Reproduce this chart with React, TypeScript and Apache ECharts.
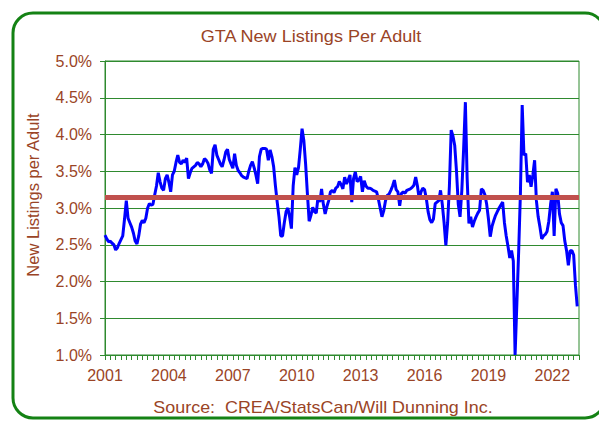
import React, { useEffect, useRef } from "react";
import * as echarts from "echarts";

const TITLE = "GTA New Listings Per Adult";
const Y_NAME = "New Listings per Adult";
const SOURCE = "Source:  CREA/StatsCan/Will Dunning Inc.";
const START_YEAR = 2001;
const AVERAGE = 3.15;

// Monthly new listings per adult (%), Jan 2001 - Mar 2023
const v2001 = [2.63, 2.58, 2.54, 2.55, 2.52, 2.5, 2.43, 2.46, 2.52, 2.57, 2.62, 2.85];
const v2002 = [3.1, 2.86, 2.8, 2.74, 2.66, 2.55, 2.51, 2.62, 2.78, 2.83, 2.8, 2.86];
const v2003 = [3.0, 3.06, 3.04, 3.05, 3.18, 3.3, 3.48, 3.36, 3.27, 3.24, 3.4, 3.45];
const v2004 = [3.35, 3.22, 3.45, 3.5, 3.62, 3.72, 3.62, 3.6, 3.65, 3.62, 3.68, 3.4];
const v2005 = [3.48, 3.54, 3.56, 3.58, 3.62, 3.6, 3.56, 3.6, 3.67, 3.65, 3.61, 3.52];
const v2006 = [3.47, 3.8, 3.86, 3.72, 3.66, 3.6, 3.56, 3.65, 3.76, 3.8, 3.66, 3.6];
const v2007 = [3.54, 3.74, 3.58, 3.51, 3.48, 3.44, 3.42, 3.41, 3.4, 3.5, 3.58, 3.63];
const v2008 = [3.55, 3.45, 3.33, 3.7, 3.8, 3.81, 3.81, 3.8, 3.65, 3.79, 3.7, 3.56];
const v2009 = [3.3, 3.08, 2.88, 2.62, 2.62, 2.8, 2.95, 3.0, 2.88, 2.72, 3.3, 3.55];
const v2010 = [3.45, 3.55, 3.8, 4.08, 3.92, 3.6, 3.2, 2.82, 2.9, 3.01, 2.95, 2.93];
const v2011 = [3.15, 3.08, 3.26, 3.05, 2.92, 3.02, 3.1, 3.22, 3.24, 3.21, 3.27, 3.29];
const v2012 = [3.36, 3.32, 3.26, 3.42, 3.33, 3.38, 3.45, 3.08, 3.4, 3.49, 3.36, 3.38];
const v2013 = [3.43, 3.22, 3.37, 3.3, 3.27, 3.27, 3.26, 3.24, 3.23, 3.22, 3.12, 3.0];
const v2014 = [2.88, 2.96, 3.1, 3.17, 3.19, 3.24, 3.3, 3.38, 3.25, 3.22, 3.03, 3.2];
const v2015 = [3.22, 3.2, 3.24, 3.25, 3.26, 3.28, 3.31, 3.42, 3.3, 3.12, 3.22, 3.27];
const v2016 = [3.25, 3.13, 2.95, 2.84, 2.8, 2.85, 3.06, 3.08, 3.1, 3.24, 3.05, 2.8];
const v2017 = [2.49, 2.8, 3.3, 4.06, 3.98, 3.85, 3.5, 3.05, 2.88, 3.24, 3.8, 4.44];
const v2018 = [3.4, 2.79, 2.88, 2.74, 2.82, 2.88, 2.93, 2.97, 3.26, 3.24, 3.18, 3.05];
const v2019 = [2.85, 2.61, 2.75, 2.83, 2.9, 2.95, 3.0, 3.04, 3.08, 2.8, 2.62, 2.48];
const v2020 = [2.32, 2.42, 2.28, 1.0, 1.7, 2.4, 3.2, 4.4, 3.72, 3.74, 3.35, 3.45];
const v2021 = [3.29, 3.45, 3.65, 3.1, 2.88, 2.74, 2.58, 2.62, 2.64, 2.68, 2.82, 3.05];
const v2022 = [3.22, 2.62, 3.26, 3.2, 2.92, 2.8, 2.76, 2.55, 2.42, 2.22, 2.42, 2.42];
const v2023 = [2.36, 1.95, 1.66];

const VALUES = [
  ...v2001, ...v2002, ...v2003, ...v2004, ...v2005, ...v2006, ...v2007, ...v2008,
  ...v2009, ...v2010, ...v2011, ...v2012, ...v2013, ...v2014, ...v2015, ...v2016,
  ...v2017, ...v2018, ...v2019, ...v2020, ...v2021, ...v2022, ...v2023,
];

// month categories Jan 2001 .. Apr 2023 (axis extends one month past data)
const MONTHS: string[] = [];
for (let i = 0; i <= VALUES.length; i++) {
  const y = START_YEAR + Math.floor(i / 12);
  const m = (i % 12) + 1;
  MONTHS.push(`${y}-${m < 10 ? "0" + m : m}`);
}

const BROWN = "#9a4426";
const GREEN = "#2f8a2f";
const FONT = "'Liberation Sans', Arial, sans-serif";

export default function App() {
  const ref = useRef<HTMLDivElement>(null);
  useEffect(() => {
    document.body.style.margin = "0";
    const chart = echarts.init(ref.current!, null, { renderer: "svg" });
    chart.setOption({
      animation: false,
      backgroundColor: "#ffffff",
      textStyle: { fontFamily: FONT },
      grid: {
        left: 105,
        right: 20,
        top: 61,
        bottom: 66,
        show: true,
        borderColor: GREEN,
        borderWidth: 1,
      },
      graphic: [
        {
          type: "rect",
          shape: { x: 13, y: 13, width: 592, height: 405, r: 20 },
          style: { fill: "none", stroke: "#148214", lineWidth: 3 },
          z: 100,
        },
        {
          type: "text",
          x: 311,
          y: 37,
          scaleX: 1.13,
          style: {
            text: TITLE,
            fill: BROWN,
            font: `16px ${FONT}`,
            textAlign: "center",
            textVerticalAlign: "middle",
          },
        },
        {
          type: "text",
          x: 323,
          y: 408,
          scaleX: 1.12,
          style: {
            text: SOURCE,
            fill: BROWN,
            font: `16px ${FONT}`,
            textAlign: "center",
            textVerticalAlign: "middle",
          },
        },
        {
          type: "text",
          x: 33,
          y: 195,
          rotation: Math.PI / 2,
          style: {
            text: Y_NAME,
            fill: BROWN,
            font: `16.5px ${FONT}`,
            textAlign: "center",
            textVerticalAlign: "middle",
          },
        },
      ],
      xAxis: {
        type: "category",
        data: MONTHS,
        boundaryGap: false,
        axisLine: { lineStyle: { color: GREEN, width: 1 } },
        axisTick: { interval: 2, length: 5, lineStyle: { color: GREEN } },
        axisLabel: {
          interval: 35,
          formatter: (v: string) => v.slice(0, 4),
          color: BROWN,
          fontSize: 16,
          margin: 12,
          fontFamily: FONT,
        },
        splitLine: { show: false },
      },
      yAxis: {
        type: "value",
        min: 1,
        max: 5,
        interval: 0.5,
        axisLine: { show: true, lineStyle: { color: GREEN } },
        axisTick: { show: true, length: 5, lineStyle: { color: GREEN } },
        axisLabel: {
          formatter: (v: number) => v.toFixed(1) + "%",
          color: BROWN,
          fontSize: 16,
          margin: 13,
          fontFamily: FONT,
        },
        splitLine: { show: true, lineStyle: { color: GREEN, width: 1 } },
      },
      series: [
        {
          type: "line",
          data: VALUES,
          symbol: "none",
          lineStyle: { color: "#0000ff", width: 3 },
          z: 3,
          markLine: {
            silent: true,
            symbol: "none",
            label: { show: false },
            lineStyle: { color: "#c0504d", width: 5, type: "solid" },
            data: [{ yAxis: AVERAGE }],
            z: 4,
          },
        },
      ],
    });
    return () => chart.dispose();
  }, []);
  return <div ref={ref} style={{ width: 599, height: 421 }} />;
}
